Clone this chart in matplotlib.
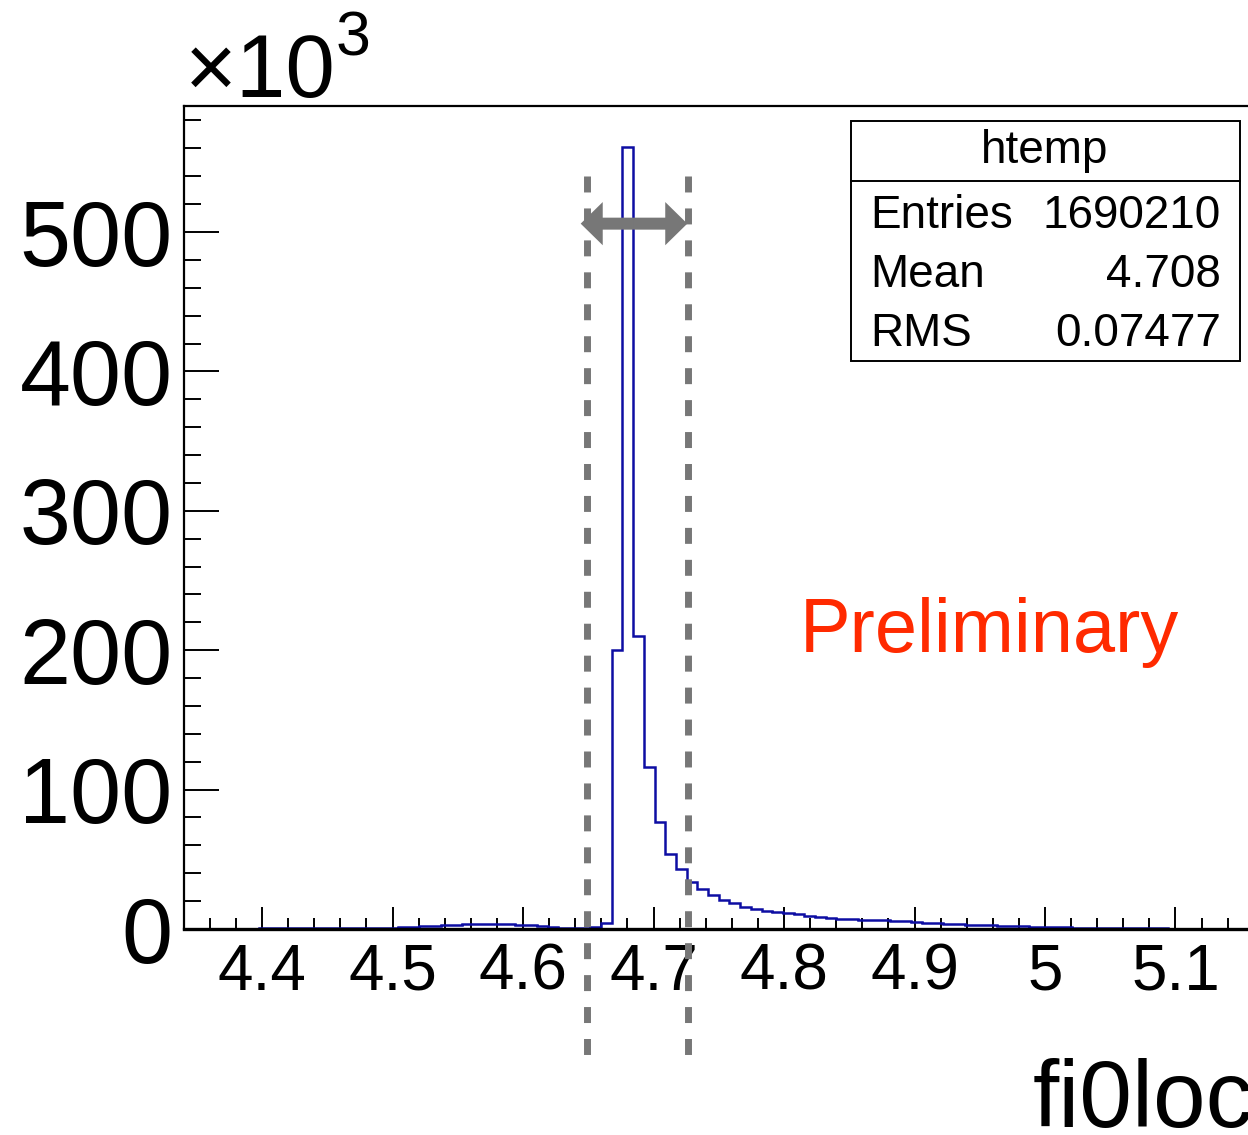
import numpy as np
import matplotlib
matplotlib.use("Agg")
import matplotlib.pyplot as plt
from matplotlib.patches import Rectangle, FancyArrow
from matplotlib.lines import Line2D

plt.rcParams['font.family'] = ['Liberation Sans', 'DejaVu Sans']
plt.rcParams['lines.scale_dashes'] = False

# histogram: 100 bins from 4.34 to 5.16 (counts in thousands)
x_min, x_max, n_bins = 4.34, 5.16, 100
counts_k = [
    0, 0, 0, 0, 0, 0, 0, 0.4, 0.4, 0.4,
    0.4, 0.4, 0.6, 0.7, 0.7, 0.8, 0.8, 0.9, 0.9, 1.0,
    1.1, 1.4, 1.8, 2.2, 2.6, 3.0, 3.4, 3.7, 3.8, 3.8,
    3.6, 3.2, 2.6, 2.0, 1.4, 1.0, 0.9, 1.0, 1.2, 4.5,
    200, 561, 210, 116, 77, 54, 43, 34, 28.5, 24.4,
    20.8, 18.4, 15.6, 14.1, 13.1, 12.4, 11.2, 10.5, 9.5, 8.8,
    8.1, 7.4, 6.9, 6.7, 6.6, 6.3, 6.0, 5.5, 5.1, 4.6,
    4.2, 3.8, 3.5, 3.2, 2.9, 2.6, 2.3, 2.0, 1.8, 1.5,
    1.3, 1.2, 1.1, 1.0, 0.9, 0.8, 0.7, 0.7, 0.6, 0.6,
    0.6, 0.5, 0, 0, 0, 0, 0, 0, 0, 0,
]
y_max = 590.4e3

x_ticks = [4.4, 4.5, 4.6, 4.7, 4.8, 4.9, 5.0, 5.1]
x_tick_labels = ['4.4', '4.5', '4.6', '4.7', '4.8', '4.9', '5', '5.1']
y_ticks = [0, 100e3, 200e3, 300e3, 400e3, 500e3]
y_tick_labels = ['0', '100', '200', '300', '400', '500']

stats_title = 'htemp'
stats_rows = [('Entries', '1690210'), ('Mean', '4.708'), ('RMS', '0.07477')]

# selection window shown with dashed lines and arrow
win_lo, win_hi = 4.649, 4.7264
arrow_lo, arrow_hi, arrow_y = 4.6442, 4.7259, 506e3

W, H = 1248, 1135
fig = plt.figure(figsize=(W / 100, H / 100), dpi=100)


def px(x, y):
    return x / W, 1 - y / H


ax = fig.add_axes([183.7 / W, 1 - 929 / H, (1253.8 - 183.7) / W, (929 - 106) / H])
edges = np.linspace(x_min, x_max, n_bins + 1)
ax.stairs(np.array(counts_k) * 1e3, edges, color='#0d0da3', lw=1.8, zorder=2)

ax.set_xlim(x_min, x_max)
ax.set_ylim(0, y_max)
ax.set_xticks(x_ticks, x_tick_labels)
ax.set_xticks(np.arange(4.34, 5.161, 0.02), minor=True)
ax.set_yticks(y_ticks, y_tick_labels)
ax.set_yticks(np.arange(0, 590e3, 20e3), minor=True)
ax.tick_params(axis='both', which='both', direction='in', width=1.4, colors='black')
ax.tick_params(axis='x', which='major', length=16, labelsize=46, pad=10)
ax.tick_params(axis='x', which='minor', length=8)
ax.tick_params(axis='y', which='major', length=25, labelsize=66, pad=8)
ax.tick_params(axis='y', which='minor', length=12)
for s in ax.spines.values():
    s.set_linewidth(1.6)
ax.spines['bottom'].set_linewidth(2.4)

# dashed window lines (extend below the axis)
for xv in (win_lo, win_hi):
    ln = Line2D([xv, xv], [540e3, -90.4e3], color='#777777', lw=5,
                dashes=(11.5, 11.5), zorder=4, clip_on=False)
    ln.set_dash_capstyle('butt')
    ax.add_line(ln)

# double-headed arrow
mid = (arrow_lo + arrow_hi) / 2
for tip in (arrow_lo, arrow_hi):
    ax.add_patch(FancyArrow(mid, arrow_y, tip - mid, 0, width=8.6e3, head_width=31e3,
                            head_length=0.0169, length_includes_head=True,
                            color='#777777', lw=0, zorder=5))

# multiplier
fig.text(*px(185, 97), '\u00d710', fontsize=64, ha='left', va='baseline')
fig.text(*px(336, 55), '3', fontsize=45, ha='left', va='baseline')

# stats box
x0, y0 = px(851, 361)
x1, y1 = px(1240, 121)
fig.add_artist(Rectangle((x0, y0), x1 - x0, y1 - y0, transform=fig.transFigure,
                         facecolor='white', edgecolor='black', lw=1.4, zorder=6))
fig.add_artist(Line2D([x0, x1], [px(0, 181)[1]] * 2, transform=fig.transFigure,
                      color='black', lw=1.4, zorder=7))
fig.text(*px(1045, 163), stats_title, fontsize=33, ha='center', va='baseline', zorder=8)
for i, (name, val) in enumerate(stats_rows):
    yb = 228 + 59 * i
    fig.text(*px(870, yb), name, fontsize=33, ha='left', va='baseline', zorder=8)
    fig.text(*px(1221, yb), val, fontsize=33, ha='right', va='baseline', zorder=8)

fig.text(*px(989, 652), 'Preliminary', fontsize=54.5, color='#ff2a00',
         ha='center', va='baseline')

# axis title, right-aligned at the axis end (cut by the image edge as in the source)
fig.text(*px(1254, 1127), 'fi0loc', fontsize=68, ha='right', va='baseline')

fig.savefig('out.png', dpi=100)
